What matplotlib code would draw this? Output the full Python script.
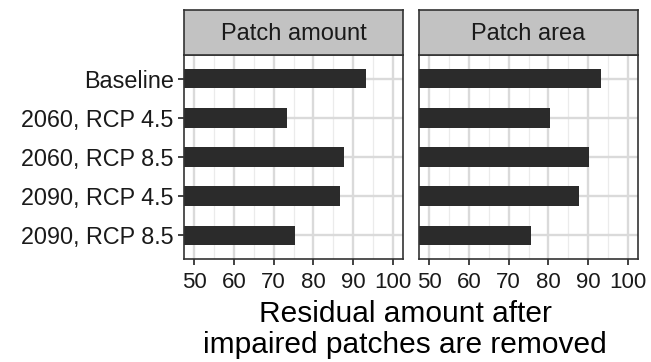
import matplotlib.pyplot as plt
import numpy as np

# Scenarios (top to bottom) and residual values per facet
scenarios = ["Baseline", "2060, RCP 4.5", "2060, RCP 8.5", "2090, RCP 4.5", "2090, RCP 8.5"]
patch_amount = [93.3, 73.3, 87.8, 86.6, 75.5]
patch_area = [93.3, 80.3, 90.2, 87.8, 75.6]
facet_titles = ["Patch amount", "Patch area"]
x_ticks = [50, 60, 70, 80, 90, 100]

W, H = 651, 362
plt.rcParams["font.family"] = ["Liberation Sans", "DejaVu Sans"]

BAR = "#2b2b2b"
FRAME = "#333333"
GRID_MAJOR = "#dadada"
GRID_MINOR = "#ebebeb"
STRIP = "#c2c2c2"

fig = plt.figure(figsize=(W / 100, H / 100), dpi=100)


def px_rect(x0, y0, x1, y1):
    """Convert a pixel box (top-left origin) into figure fractions."""
    return [x0 / W, 1 - y1 / H, (x1 - x0) / W, (y1 - y0) / H]


panels = [(184, 403), (419, 638)]
panel_top, panel_bottom = 55, 259
strip_top = 10

ypos = np.arange(len(scenarios))[::-1] + 1

for i, (values, title) in enumerate(zip([patch_amount, patch_area], facet_titles)):
    x0, x1 = panels[i]
    ax = fig.add_axes(px_rect(x0, panel_top, x1, panel_bottom))
    ax.barh(ypos, np.array(values), height=0.5, color=BAR, zorder=3)

    ax.set_xlim(47.5, 102.5)
    ax.set_ylim(0.4, 5.6)
    ax.set_xticks(x_ticks)
    ax.set_xticks([55, 65, 75, 85, 95], minor=True)
    ax.set_yticks(ypos)
    ax.grid(which="major", color=GRID_MAJOR, linewidth=1.7, zorder=0)
    ax.grid(which="minor", axis="x", color=GRID_MINOR, linewidth=0.9, zorder=0)
    ax.tick_params(axis="x", which="minor", length=0)
    ax.tick_params(axis="both", which="major", color=FRAME, width=1.3,
                   length=4.5, labelcolor="#1a1a1a")
    ax.tick_params(axis="x", labelsize=16, pad=5)
    ax.tick_params(axis="y", labelsize=16.8, pad=3)
    if i == 0:
        ax.set_yticklabels(scenarios)
    else:
        ax.tick_params(axis="y", left=False, labelleft=False)
    for spine in ax.spines.values():
        spine.set_color(FRAME)
        spine.set_linewidth(1.2)
        spine.set_zorder(4)

    # facet strip above the panel
    sax = fig.add_axes(px_rect(x0, strip_top, x1, panel_top))
    sax.set_facecolor(STRIP)
    sax.set_xticks([])
    sax.set_yticks([])
    for spine in sax.spines.values():
        spine.set_color(FRAME)
        spine.set_linewidth(1.2)
    sax.text(0.5, 0.47, title, transform=sax.transAxes, ha="center", va="center",
             fontsize=17, color="#1a1a1a")

fig.text(405 / W, 1 - 322 / H, "Residual amount after", ha="center", va="baseline",
         fontsize=21.5, color="black")
fig.text(405 / W, 1 - 353 / H, "impaired patches are removed", ha="center", va="baseline",
         fontsize=21.5, color="black")

fig.savefig("out.png", dpi=100, facecolor="white")
